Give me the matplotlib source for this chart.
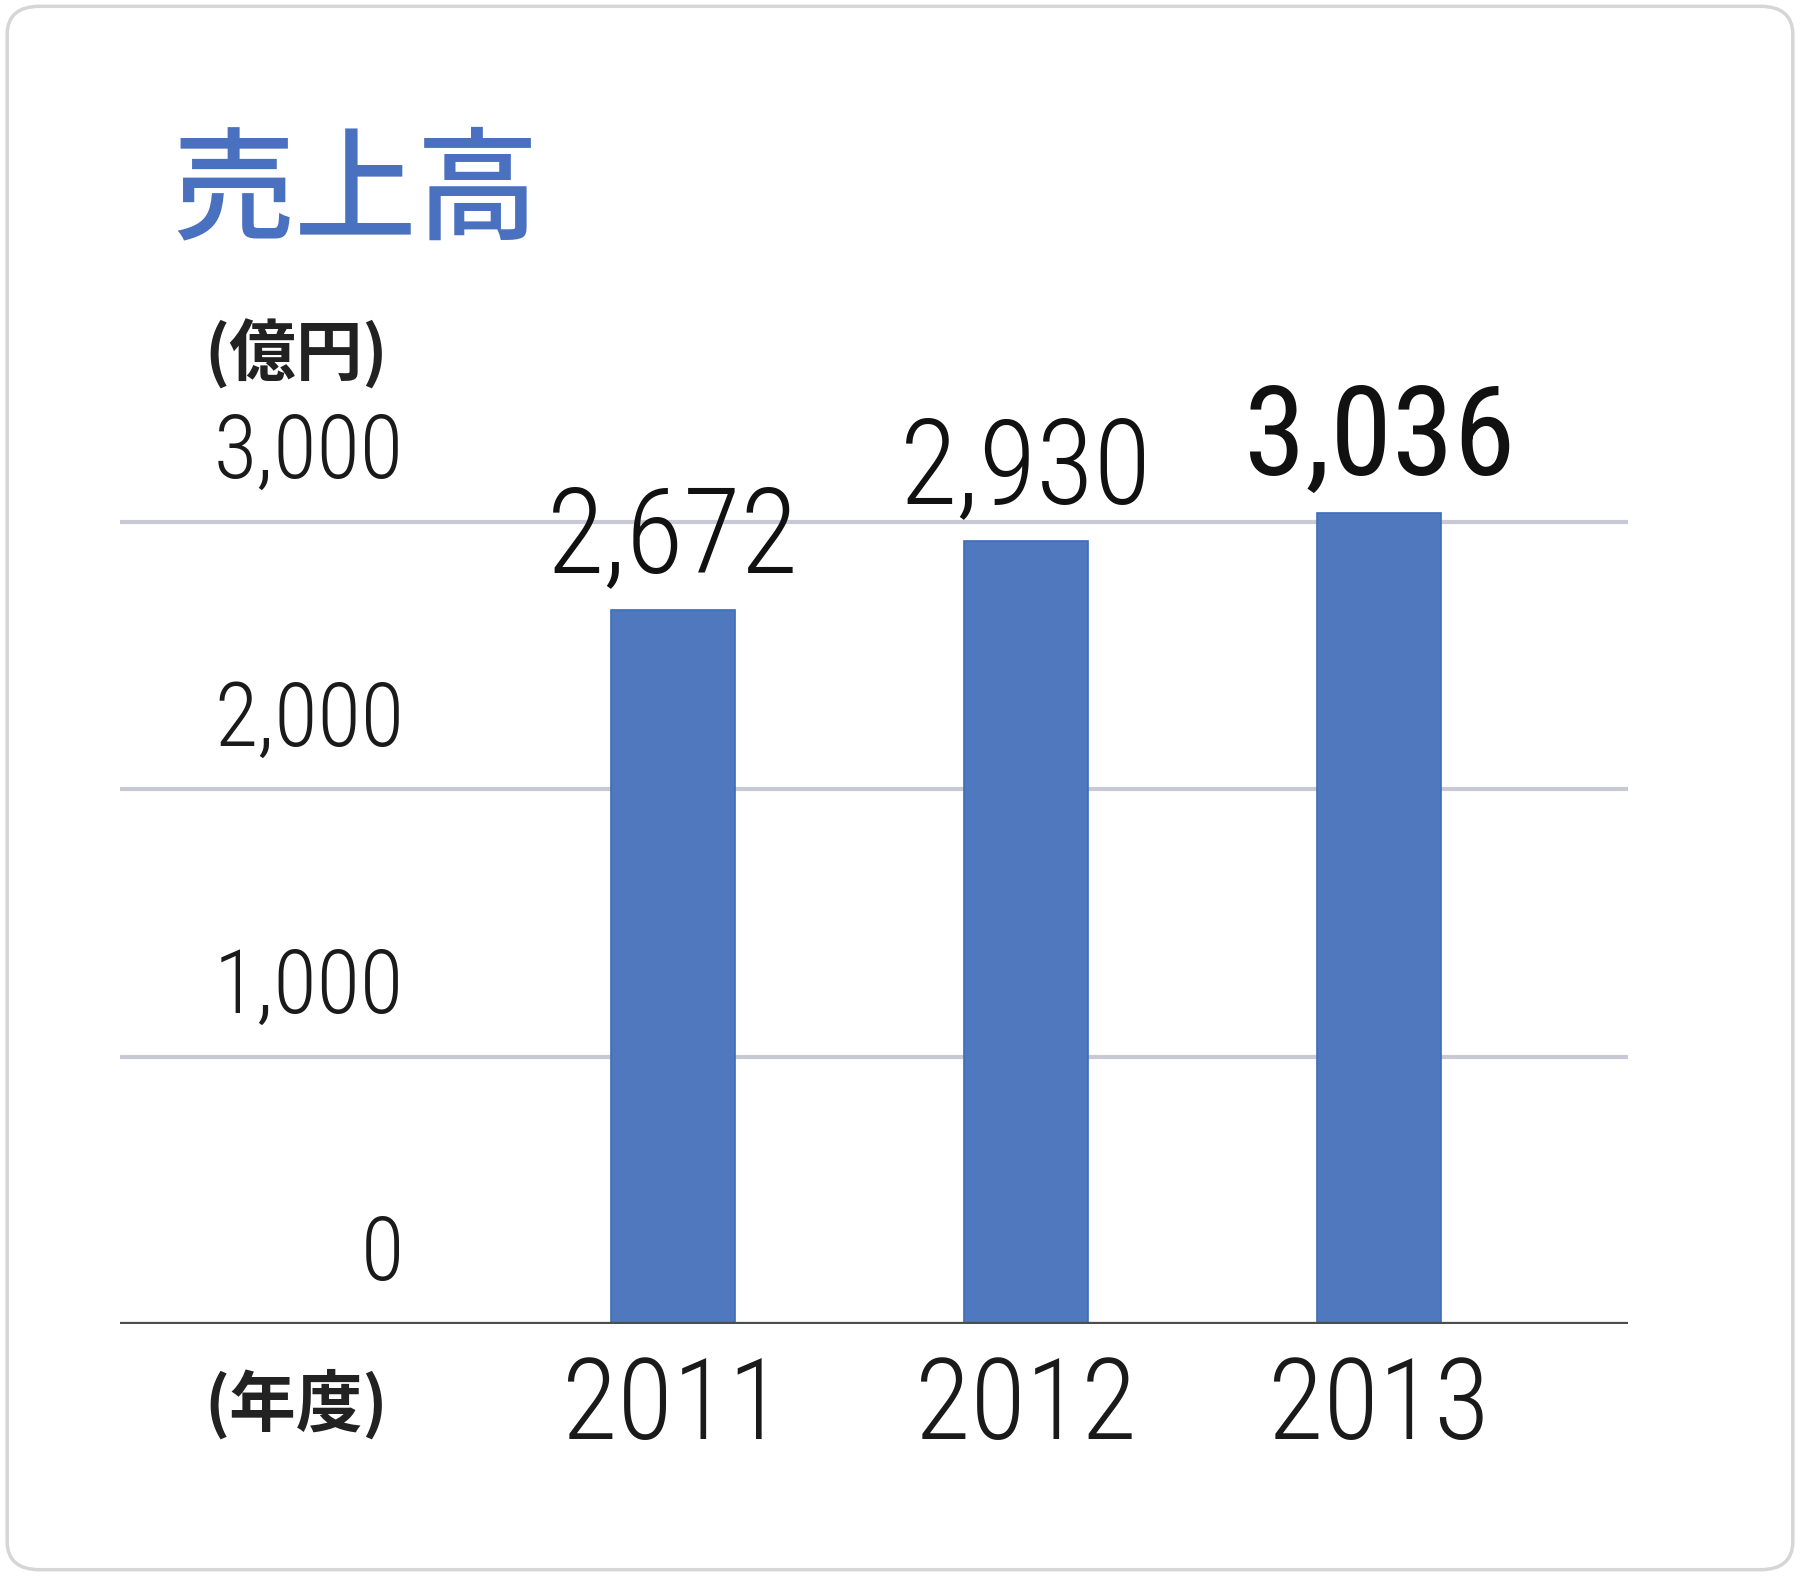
import matplotlib
matplotlib.use("Agg")
import matplotlib.pyplot as plt
import matplotlib.transforms as mtransforms
from matplotlib.patches import FancyBboxPatch

# data
years = ["2011", "2012", "2013"]
sales = [2672, 2930, 3036]
value_labels = ["2,672", "2,930", "3,036"]
yticks = [0, 1000, 2000, 3000]
ytick_labels = ["0", "1,000", "2,000", "3,000"]

NUM = ["Roboto Condensed", "Liberation Sans", "DejaVu Sans"]
JP = ["Noto Sans CJK JP", "DejaVu Sans"]
BAR = "#4f78be"
GRID = "#c9c9d6"

fig = plt.figure(figsize=(18, 15.76), dpi=100)
fig.patch.set_facecolor("white")

# rounded frame round the whole card
fig.patches.append(FancyBboxPatch((0.004, 0.004), 0.992, 0.992,
                                  boxstyle="round,pad=0,rounding_size=0.018",
                                  transform=fig.transFigure, fc="none",
                                  ec="#d6d6d6", lw=2.5, zorder=-1))

ax = fig.add_axes([0.0667, 0.160, 0.8378, 0.5595])
ax.set_facecolor("none")
x = range(len(years))
ax.bar(x, sales, width=0.35, color=BAR, edgecolor="#3f6cb8", lw=1.2, zorder=3)
ax.set_xlim(-1.567, 2.705)
ax.set_ylim(0, 3300)

for v in yticks[1:]:
    ax.axhline(v, color=GRID, lw=3, zorder=1)
ax.axhline(0, color="#4d4d4d", lw=3.8, zorder=4)

for s in ax.spines.values():
    s.set_visible(False)
ax.set_xticks([]); ax.set_yticks([])

# y labels sit above their grid lines
tr_y = mtransforms.blended_transform_factory(fig.transFigure, ax.transData)
for v, lab in zip(yticks, ytick_labels):
    ax.text(404 / 1800, v + 165, lab, transform=tr_y, ha="right", va="baseline",
            fontsize=64, fontweight="light", family=NUM, color="#1a1a1a")

# value labels (the latest year is a touch heavier)
for i, (v, lab) in enumerate(zip(sales, value_labels)):
    big = i == len(sales) - 1
    ax.annotate(lab, (i, v), xytext=(0, 27), textcoords="offset points",
                ha="center", va="baseline", fontsize=90 if big else 85,
                fontweight="normal" if big else "light", family=NUM, color="#111111")

# year labels
tr_x = mtransforms.blended_transform_factory(ax.transData, fig.transFigure)
for i, yr in enumerate(years):
    ax.text(i, 1 - 1439 / 1576, yr, transform=tr_x, ha="center", va="baseline",
            fontsize=82, fontweight="light", family=NUM, color="#1a1a1a")

fig.text(204 / 1800, 1 - 355 / 1576, "(億円)", ha="left", va="center",
         fontsize=48, fontweight="bold", family=JP, color="#222222")
fig.text(204 / 1800, 1 - 1404 / 1576, "(年度)", ha="left", va="center",
         fontsize=48, fontweight="bold", family=JP, color="#222222")
fig.text(172 / 1800, 1 - 194 / 1576, "売上高", ha="left", va="center",
         fontsize=88, fontweight="medium", family=JP, color="#4a70c0")

fig.savefig("out.png", dpi=100)
